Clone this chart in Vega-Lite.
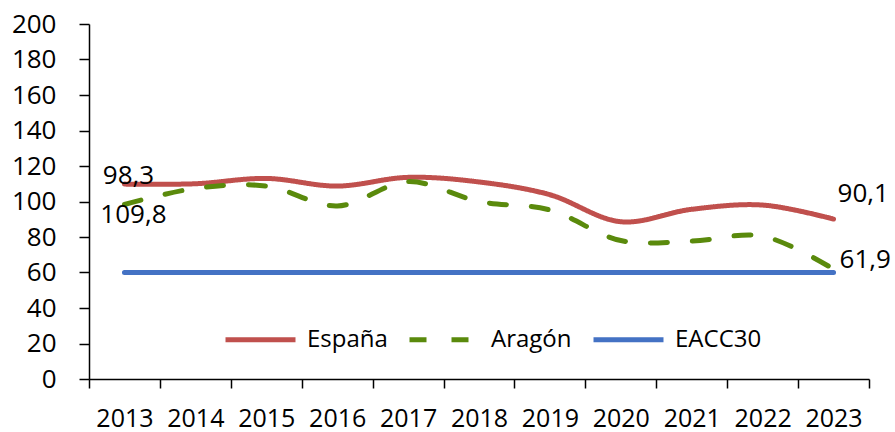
{
  "$schema": "https://vega.github.io/schema/vega-lite/v6.json",
  "width": 780,
  "height": 355,
  "autosize": {"type": "none"},
  "padding": {"left": 89, "top": 24, "right": 26, "bottom": 53},
  "background": "white",
  "config": {
    "view": {"stroke": null},
    "font": "Open Sans",
    "axis": {"labelFont": "Open Sans", "labelColor": "black", "domainColor": "black", "tickColor": "black", "domainWidth": 1.5, "tickWidth": 1.5, "grid": false, "title": null}
  },
  "datasets": {
    "series": [
      {"year": "2013", "series": "España", "value": 109.8},
      {"year": "2014", "series": "España", "value": 110.0},
      {"year": "2015", "series": "España", "value": 113.0},
      {"year": "2016", "series": "España", "value": 108.7},
      {"year": "2017", "series": "España", "value": 113.6},
      {"year": "2018", "series": "España", "value": 111.0},
      {"year": "2019", "series": "España", "value": 103.8},
      {"year": "2020", "series": "España", "value": 88.6},
      {"year": "2021", "series": "España", "value": 95.6},
      {"year": "2022", "series": "España", "value": 98.0},
      {"year": "2023", "series": "España", "value": 90.1},
      {"year": "2013", "series": "Aragón", "value": 98.3},
      {"year": "2014", "series": "Aragón", "value": 107.4},
      {"year": "2015", "series": "Aragón", "value": 108.7},
      {"year": "2016", "series": "Aragón", "value": 97.5},
      {"year": "2017", "series": "Aragón", "value": 111.2},
      {"year": "2018", "series": "Aragón", "value": 100.0},
      {"year": "2019", "series": "Aragón", "value": 95.2},
      {"year": "2020", "series": "Aragón", "value": 78.0},
      {"year": "2021", "series": "Aragón", "value": 77.7},
      {"year": "2022", "series": "Aragón", "value": 80.5},
      {"year": "2023", "series": "Aragón", "value": 61.9},
      {"year": "2013", "series": "EACC30", "value": 60},
      {"year": "2014", "series": "EACC30", "value": 60},
      {"year": "2015", "series": "EACC30", "value": 60},
      {"year": "2016", "series": "EACC30", "value": 60},
      {"year": "2017", "series": "EACC30", "value": 60},
      {"year": "2018", "series": "EACC30", "value": 60},
      {"year": "2019", "series": "EACC30", "value": 60},
      {"year": "2020", "series": "EACC30", "value": 60},
      {"year": "2021", "series": "EACC30", "value": 60},
      {"year": "2022", "series": "EACC30", "value": 60},
      {"year": "2023", "series": "EACC30", "value": 60}
    ],
    "labels": [
      {"year": "2013", "series": "Aragón", "value": 98.3, "label": "98,3"},
      {"year": "2013", "series": "España", "value": 109.8, "label": "109,8"},
      {"year": "2023", "series": "España", "value": 90.1, "label": "90,1"},
      {"year": "2023", "series": "Aragón", "value": 61.9, "label": "61,9"}
    ]
  },
  "encoding": {
    "x": {
      "field": "year", "type": "ordinal", "bandPosition": 0.5,
      "scale": {"type": "band", "paddingInner": 0, "paddingOuter": 0},
      "axis": {"labelAngle": 0, "tickBand": "extent", "labelFontSize": 25, "tickSize": 9, "labelPadding": 18}
    },
    "y": {
      "field": "value", "type": "quantitative",
      "scale": {"domain": [0, 200], "nice": false, "zero": true},
      "axis": {"values": [0, 20, 40, 60, 80, 100, 120, 140, 160, 180, 200], "labelFontSize": 26, "tickSize": 10, "labelPadding": 23}
    }
  },
  "layer": [
    {
      "data": {"name": "series"},
      "mark": {"type": "line", "interpolate": "catmull-rom", "strokeWidth": 5, "strokeCap": "round"},
      "encoding": {
        "color": {
          "field": "series", "type": "nominal",
          "scale": {"domain": ["España", "Aragón", "EACC30"], "range": ["#C0504D", "#5A8A0C", "#4472C4"]},
          "legend": {
            "title": null, "orient": "none", "direction": "horizontal",
            "legendX": 134, "legendY": 278, "padding": 0,
            "symbolType": "stroke", "symbolSize": 4900, "symbolStrokeWidth": 5,
            "labelFont": "Open Sans", "labelFontSize": 24, "labelColor": "black",
            "labelOffset": 9, "columnPadding": 11
          }
        },
        "strokeDash": {
          "field": "series", "type": "nominal",
          "scale": {"domain": ["España", "Aragón", "EACC30"], "range": [[1, 0], [17, 25], [1, 0]]},
          "legend": {
            "title": null, "orient": "none", "direction": "horizontal",
            "legendX": 134, "legendY": 278, "padding": 0,
            "symbolType": "stroke", "symbolSize": 4900, "symbolStrokeWidth": 5,
            "labelFont": "Open Sans", "labelFontSize": 24, "labelColor": "black",
            "labelOffset": 9, "columnPadding": 11
          }
        }
      }
    },
    {
      "data": {"name": "labels"},
      "transform": [{"filter": "datum.label == '98,3'"}],
      "mark": {"type": "text", "fontSize": 26, "font": "Open Sans", "color": "black", "dy": -29, "dx": 4, "align": "center", "baseline": "middle"},
      "encoding": {"text": {"field": "label"}}
    },
    {
      "data": {"name": "labels"},
      "transform": [{"filter": "datum.label == '109,8'"}],
      "mark": {"type": "text", "fontSize": 26, "font": "Open Sans", "color": "black", "dy": 31, "dx": 9, "align": "center", "baseline": "middle"},
      "encoding": {"text": {"field": "label"}}
    },
    {
      "data": {"name": "labels"},
      "transform": [{"filter": "datum.label == '90,1'"}],
      "mark": {"type": "text", "fontSize": 26, "font": "Open Sans", "color": "black", "dy": -25, "dx": 4, "align": "left", "baseline": "middle"},
      "encoding": {"text": {"field": "label"}}
    },
    {
      "data": {"name": "labels"},
      "transform": [{"filter": "datum.label == '61,9'"}],
      "mark": {"type": "text", "fontSize": 26, "font": "Open Sans", "color": "black", "dy": -9, "dx": 6, "align": "left", "baseline": "middle"},
      "encoding": {"text": {"field": "label"}}
    }
  ]
}
